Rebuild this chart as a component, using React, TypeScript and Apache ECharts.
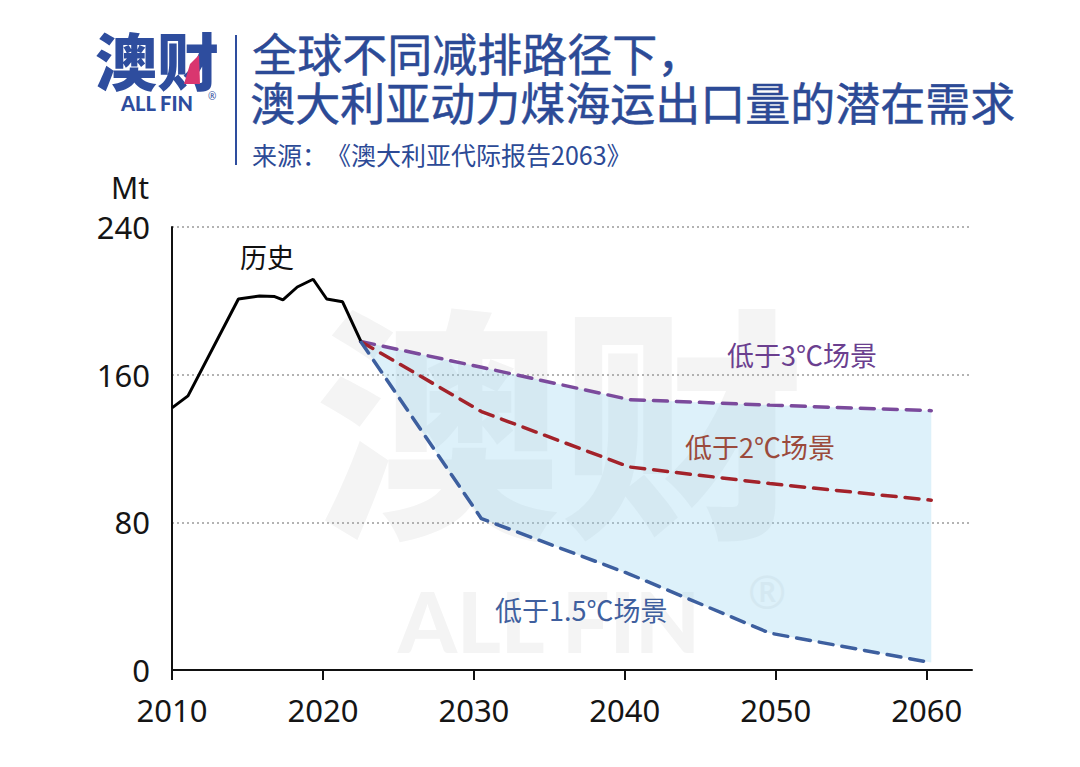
import React, { useEffect, useRef } from "react";
import * as echarts from "echarts";

const historyYears = [2010, 2011.06, 2014.4, 2015.8, 2016.8, 2017.35, 2018.3, 2019.35, 2020.25, 2021.3, 2022.5];
const historyValues = [142, 148.5, 201, 202.6, 202.3, 200.5, 207.5, 211.7, 201, 199.5, 178.3];
const scenarioYears = [2022.5, 2030.5, 2040.3, 2049.6, 2060.3];
const below3 = [178, 164, 146.5, 143.5, 140.5];
const below2 = [178, 140, 110, 101, 92];
const below15 = [178, 82, 52, 20, 4];
const xTicks = [2010, 2020, 2030, 2040, 2050, 2060];
const yTicks = [0, 80, 160, 240];

const BLUE = "#2c4a96";
const CJK = "'Noto Sans CJK SC', 'Noto Sans', sans-serif";
const NUM = "'Noto Sans', 'Open Sans', sans-serif";

export default function App() {
  const ref = useRef<HTMLDivElement>(null);
  useEffect(() => {
    if (!ref.current) return;
    const chart = echarts.init(ref.current, undefined, { renderer: "svg" });
    const pairs = (xs: number[], ys: number[]) => xs.map((x, i) => [x, ys[i]]);
    const dashed = (name: string, data: number[], color: string) => ({
      name,
      type: "line",
      data: pairs(scenarioYears, data),
      symbol: "none",
      z: 5,
      lineStyle: { color, width: 3.5, type: [14, 9], cap: "round" },
    });
    const label = (text: string, left: number, top: number, fill: string) => ({
      type: "text",
      z: 100,
      left,
      top,
      style: { text, fontSize: 27, fontFamily: CJK, fill },
    });
    chart.setOption({
      animation: false,
      backgroundColor: "#ffffff",
      grid: { left: 172, top: 227, right: 108, bottom: 97, containLabel: false },
      xAxis: {
        type: "value",
        min: 2010,
        max: 2063,
        interval: 10,
        axisLine: { show: true, lineStyle: { color: "#111", width: 2 } },
        axisTick: { show: true, length: 10, lineStyle: { color: "#111", width: 2 }, customValues: xTicks },
        axisLabel: {
          customValues: xTicks,
          color: "#151515",
          fontSize: 31,
          fontFamily: NUM,
          margin: 24,
          formatter: (v: number) => String(v),
        },
        splitLine: { show: false },
      },
      yAxis: {
        type: "value",
        min: 0,
        max: 240,
        interval: 80,
        axisLine: { show: true, lineStyle: { color: "#111", width: 2 } },
        axisTick: { show: false },
        axisLabel: {
          customValues: yTicks,
          color: "#151515",
          fontSize: 31,
          fontFamily: NUM,
          margin: 22,
        },
        splitLine: { show: true, lineStyle: { color: "#9a9a9a", width: 1.5, type: [2, 3] } },
      },
      graphic: [
        // watermark
        {
          type: "text",
          z: -10,
          silent: true,
          left: 315,
          top: 290,
          style: { text: "澳财", fontSize: 245, fontWeight: 900, fontFamily: CJK, fill: "#f4f4f4" },
        },
        {
          type: "text",
          z: -10,
          silent: true,
          left: 398,
          top: 578,
          style: { text: "ALL FIN", fontSize: 84, fontWeight: 900, fontFamily: "'Lato', 'Noto Sans', sans-serif", fill: "#f4f4f4" },
        },
        {
          type: "text",
          z: -10,
          silent: true,
          left: 748,
          top: 568,
          style: { text: "®", fontSize: 46, fontFamily: "'Noto Sans', sans-serif", fill: "#f2f2f2" },
        },
        // logo
        {
          type: "text",
          left: 95,
          top: 28,
          style: { text: "澳财", fontSize: 62, fontWeight: 900, fontFamily: CJK, fill: "#2e4d9e" },
        },
        {
          type: "polygon",
          shape: { points: [[190, 64], [199, 55], [200, 84], [184, 84]] },
          style: { fill: "#d9366f" },
        },
        {
          type: "text",
          left: 121,
          top: 93,
          style: { text: "ALL FIN", fontSize: 20, fontWeight: 900, fontFamily: "'Lato', 'Noto Sans', sans-serif", fill: "#2e4d9e" },
        },
        {
          type: "text",
          left: 208,
          top: 91,
          style: { text: "®", fontSize: 10, fontFamily: "'Noto Sans', sans-serif", fill: "#2e4d9e" },
        },
        {
          type: "line",
          shape: { x1: 236, y1: 35, x2: 236, y2: 165 },
          style: { stroke: "#2e4d9e", lineWidth: 2 },
        },
        // title
        {
          type: "text",
          left: 252,
          top: 30,
          style: { text: "全球不同减排路径下，", fontSize: 45, fontWeight: 400, fontFamily: CJK, fill: BLUE, stroke: BLUE, lineWidth: 0.5 },
        },
        {
          type: "text",
          left: 250,
          top: 79,
          style: { text: "澳大利亚动力煤海运出口量的潜在需求", fontSize: 45, fontWeight: 400, fontFamily: CJK, fill: BLUE, stroke: BLUE, lineWidth: 0.5 },
        },
        {
          type: "text",
          left: 252,
          top: 141,
          style: { text: "来源：", fontSize: 25, fontWeight: 400, fontFamily: CJK, fill: BLUE },
        },
        {
          type: "text",
          left: 326,
          top: 141,
          style: { text: "《澳大利亚代际报告2063》", fontSize: 25, fontWeight: 400, fontFamily: CJK, fill: BLUE },
        },
        // axis unit
        {
          type: "text",
          left: 111,
          top: 172,
          style: { text: "Mt", fontSize: 30, fontFamily: NUM, fill: "#151515" },
        },
        // series labels
        label("历史", 240, 243, "#111"),
        label("低于3℃场景", 727, 341, "#6b3f8f"),
        label("低于2℃场景", 685, 433, "#9b4a3c"),
        label("低于1.5℃场景", 495, 596, "#3f5f9e"),
      ],
      series: [
        {
          type: "custom",
          silent: true,
          z: 1,
          data: [[scenarioYears[0], below15[0]]],
          renderItem: (params: any, api: any) => {
            const top = scenarioYears.map((x, i) => api.coord([x, below3[i]]));
            const bottom = scenarioYears.map((x, i) => api.coord([x, below15[i]])).reverse();
            return {
              type: "polygon",
              shape: { points: top.concat(bottom) },
              style: { fill: "rgba(150,210,240,0.32)" },
            };
          },
        },
        {
          name: "历史",
          type: "line",
          data: pairs(historyYears, historyValues),
          symbol: "none",
          z: 6,
          lineStyle: { color: "#000", width: 3 },
        },
        dashed("低于3℃场景", below3, "#7b4a9c"),
        dashed("低于2℃场景", below2, "#a3222a"),
        dashed("低于1.5℃场景", below15, "#3d5f9f"),
      ],
    });
    return () => chart.dispose();
  }, []);
  return <div ref={ref} style={{ width: 1080, height: 767, position: "absolute", left: 0, top: 0 }} />;
}
